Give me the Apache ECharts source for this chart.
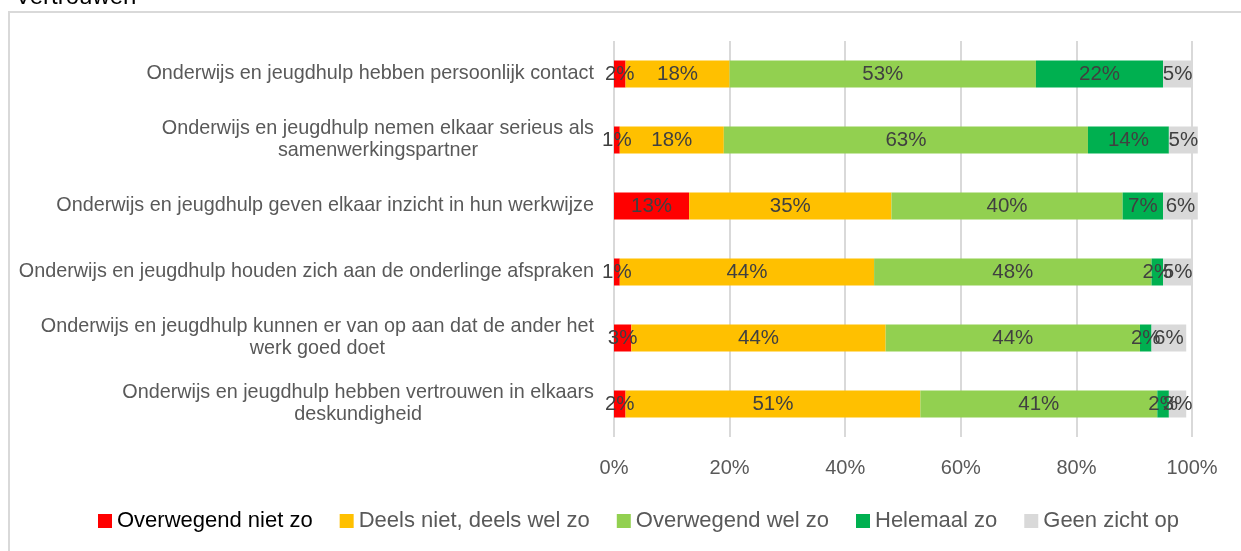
<!DOCTYPE html>
<html>
<head>
<meta charset="utf-8">
<script src="https://cdn.jsdelivr.net/npm/echarts@6/dist/echarts.min.js"></script>
<style>
  html, body { margin: 0; padding: 0; background: #fff; }
  #chart { width: 1241px; height: 551px; }
</style>
</head>
<body>
<div id="chart"></div>
<script>
// categories (top to bottom)
const categories = [
  'Onderwijs en jeugdhulp hebben persoonlijk contact',
  'Onderwijs en jeugdhulp nemen elkaar serieus als\nsamenwerkingspartner',
  'Onderwijs en jeugdhulp geven elkaar inzicht in hun werkwijze',
  'Onderwijs en jeugdhulp houden zich aan de onderlinge afspraken',
  'Onderwijs en jeugdhulp kunnen er van op aan dat de ander het\nwerk goed doet',
  'Onderwijs en jeugdhulp hebben vertrouwen in elkaars\ndeskundigheid'
]
// percentages per answer
const overwegendNiet = [2, 1, 13, 1, 3, 2]
const deelsDeels = [18, 18, 35, 44, 44, 51]
const overwegendWel = [53, 63, 40, 48, 44, 41]
const helemaal = [22, 14, 7, 2, 2, 2]
const geenZicht = [5, 5, 6, 5, 6, 3]
const seriesNames = ['Overwegend niet zo', 'Deels niet, deels wel zo', 'Overwegend wel zo', 'Helemaal zo', 'Geen zicht op']
const seriesColors = ['#FF0000', '#FFC000', '#92D050', '#00B050', '#D9D9D9']

const font = '"Liberation Sans", Arial, sans-serif'
const values = [overwegendNiet, deelsDeels, overwegendWel, helemaal, geenZicht]

const chart = echarts.init(document.getElementById('chart'))
chart.setOption({
  animation: false,
  textStyle: { fontFamily: font },
  title: {
    text: 'Vertrouwen',
    left: 10,
    top: -20,
    textStyle: { color: '#000', fontSize: 24, fontWeight: 'normal', fontFamily: font }
  },
  graphic: [{
    type: 'rect',
    shape: { x: 9, y: 12, width: 1300, height: 600 },
    style: { fill: 'none', stroke: '#D9D9D9', lineWidth: 2 },
    silent: true,
    z: -1
  }],
  legend: {
    data: seriesNames.map((n, i) => ({
      name: n,
      textStyle: { color: i === 0 ? '#000' : '#595959' }
    })),
    icon: 'rect',
    itemWidth: 14,
    itemHeight: 14,
    itemGap: 27,
    padding: 0,
    left: 98,
    top: 510,
    textStyle: { fontSize: 22, fontFamily: font, color: '#595959' }
  },
  grid: {
    left: 614,
    right: 49,
    top: 41,
    height: 396,
    containLabel: false
  },
  xAxis: {
    type: 'value',
    min: 0,
    max: 100,
    interval: 20,
    axisLine: { show: false },
    axisTick: { show: false },
    axisLabel: {
      formatter: v => v + '%',
      color: '#595959',
      fontSize: 20,
      margin: 21,
      fontFamily: font
    },
    splitLine: { show: true, lineStyle: { color: '#D9D9D9', width: 2 } }
  },
  yAxis: {
    type: 'category',
    data: categories,
    inverse: true,
    axisLine: { show: false },
    axisTick: { show: false },
    axisLabel: {
      margin: 20,
      color: '#595959',
      fontSize: 19.8,
      lineHeight: 22,
      fontFamily: font,
      formatter: v => v.split('\n').map(s => '{a|' + s + '}').join('\n'),
      rich: {
        a: { align: 'center', fontSize: 19.8, lineHeight: 22, color: '#595959', fontFamily: font }
      }
    }
  },
  series: seriesNames.map((name, i) => ({
    name: name,
    type: 'bar',
    stack: 'total',
    barWidth: 27,
    clip: false,
    data: values[i],
    itemStyle: { color: seriesColors[i] },
    label: {
      show: true,
      position: 'inside',
      formatter: p => p.value + '%',
      color: '#404040',
      fontSize: 20.5,
      fontFamily: font
    }
  }))
})
</script>
</body>
</html>
